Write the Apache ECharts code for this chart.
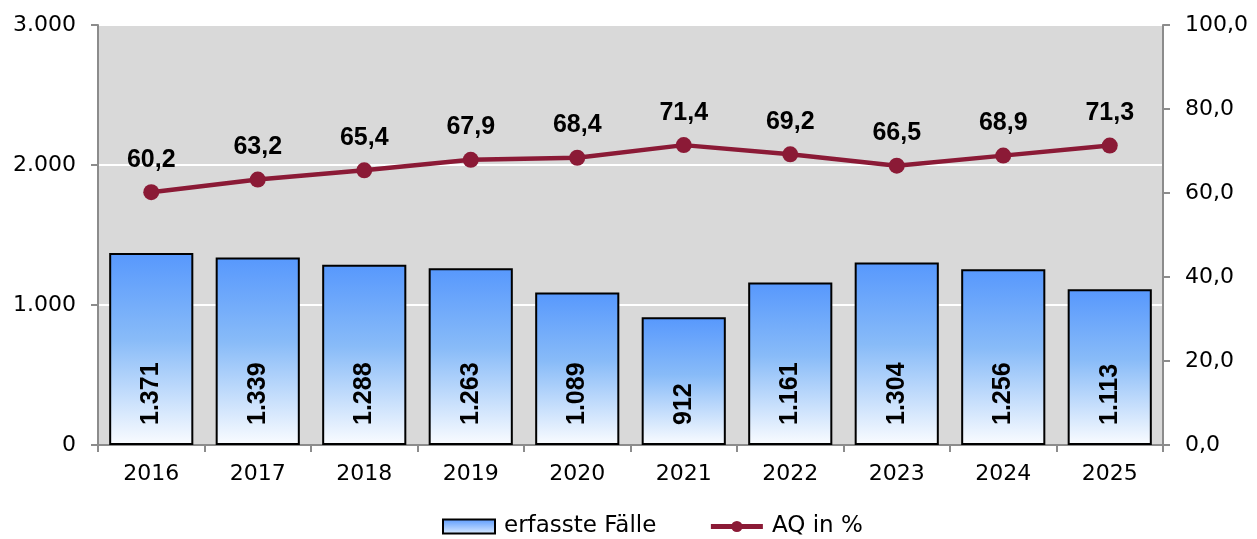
<!DOCTYPE html>
<html><head><meta charset="utf-8">
<script src="https://cdn.jsdelivr.net/npm/echarts@6/dist/echarts.min.js"></script>
<style>html,body{margin:0;padding:0;background:#fff}#c{width:1257px;height:539px}</style>
</head><body><div id="c"></div>
<script>
const categories = ['2016','2017','2018','2019','2020','2021','2022','2023','2024','2025'];
const faelle = [1371,1339,1288,1263,1089,912,1161,1304,1256,1113];
const aq = [60.2,63.2,65.4,67.9,68.4,71.4,69.2,66.5,68.9,71.3];
const leftTicks = [0,1000,2000,3000];
const rightTicks = [0,20,40,60,80,100];

const fmtThousand = v => String(v).replace(/\B(?=(\d{3})+(?!\d))/g, '.');
const fmtDec = v => v.toFixed(1).replace('.', ',');
const font = 'DejaVu Sans, sans-serif';
const boldFont = 'Liberation Sans, Arial, sans-serif';
const lineColor = '#8B1A36';
const barGrad = new echarts.graphic.LinearGradient(0,0,0,1,[
  {offset:0,color:'#5798fd'},{offset:0.45,color:'#88bbf8'},{offset:1,color:'#fafcff'}]);
const legendGrad = new echarts.graphic.LinearGradient(0,0,0,1,[
  {offset:0,color:'#5798fd'},{offset:1,color:'#dfeeff'}]);

const chart = echarts.init(document.getElementById('c'));
chart.setOption({
  animation:false,
  textStyle:{fontFamily:font},
  grid:{left:98,right:94,top:25,bottom:94,show:true,backgroundColor:'#d9d9d9',borderWidth:0},
  legend:{top:510,left:437,itemGap:52,itemWidth:52,itemHeight:14,
    textStyle:{fontSize:23,color:'#000',fontFamily:font,padding:[0,0,0,4]},
    data:[{name:'erfasste Fälle',icon:'rect',itemStyle:{color:legendGrad,borderColor:'#000',borderWidth:2}},
          {name:'AQ in %',lineStyle:{width:5}}]},
  xAxis:{type:'category',data:categories,
    axisLine:{lineStyle:{color:'#8c8c8c',width:2}},
    axisTick:{show:true,length:7,lineStyle:{color:'#8c8c8c',width:2}},
    axisLabel:{fontSize:22,color:'#000',margin:18,fontFamily:font}},
  yAxis:[
    {type:'value',min:0,max:3000,interval:1000,
      axisLine:{show:true,lineStyle:{color:'#8c8c8c',width:2}},
      axisTick:{show:true,length:7,lineStyle:{color:'#8c8c8c',width:2}},
      splitLine:{lineStyle:{color:'#ffffff',width:2}},
      axisLabel:{fontSize:22,color:'#000',margin:22,fontFamily:font,formatter:v=>fmtThousand(v)}},
    {type:'value',min:0,max:100,interval:20,position:'right',
      axisLine:{show:true,lineStyle:{color:'#8c8c8c',width:2}},
      axisTick:{show:true,length:7,lineStyle:{color:'#8c8c8c',width:2}},
      splitLine:{show:false},
      axisLabel:{fontSize:22,color:'#000',margin:22,fontFamily:font,formatter:v=>fmtDec(v)}}
  ],
  series:[
    {name:'erfasste Fälle',type:'bar',data:faelle,barWidth:'79%',yAxisIndex:0,
      itemStyle:{color:barGrad,borderColor:'#000',borderWidth:2},
      label:{show:true,position:'insideBottom',rotate:90,align:'left',verticalAlign:'middle',distance:20,
        fontSize:25,fontWeight:'bold',color:'#000',fontFamily:boldFont,formatter:p=>fmtThousand(p.value)}},
    {name:'AQ in %',type:'line',data:aq,yAxisIndex:1,
      lineStyle:{color:lineColor,width:4.5},itemStyle:{color:lineColor},
      symbol:'circle',symbolSize:16,
      label:{show:true,position:'top',distance:12,fontSize:25,fontWeight:'bold',color:'#000',fontFamily:boldFont,
        formatter:p=>fmtDec(p.value)}}
  ]
});
</script></body></html>
